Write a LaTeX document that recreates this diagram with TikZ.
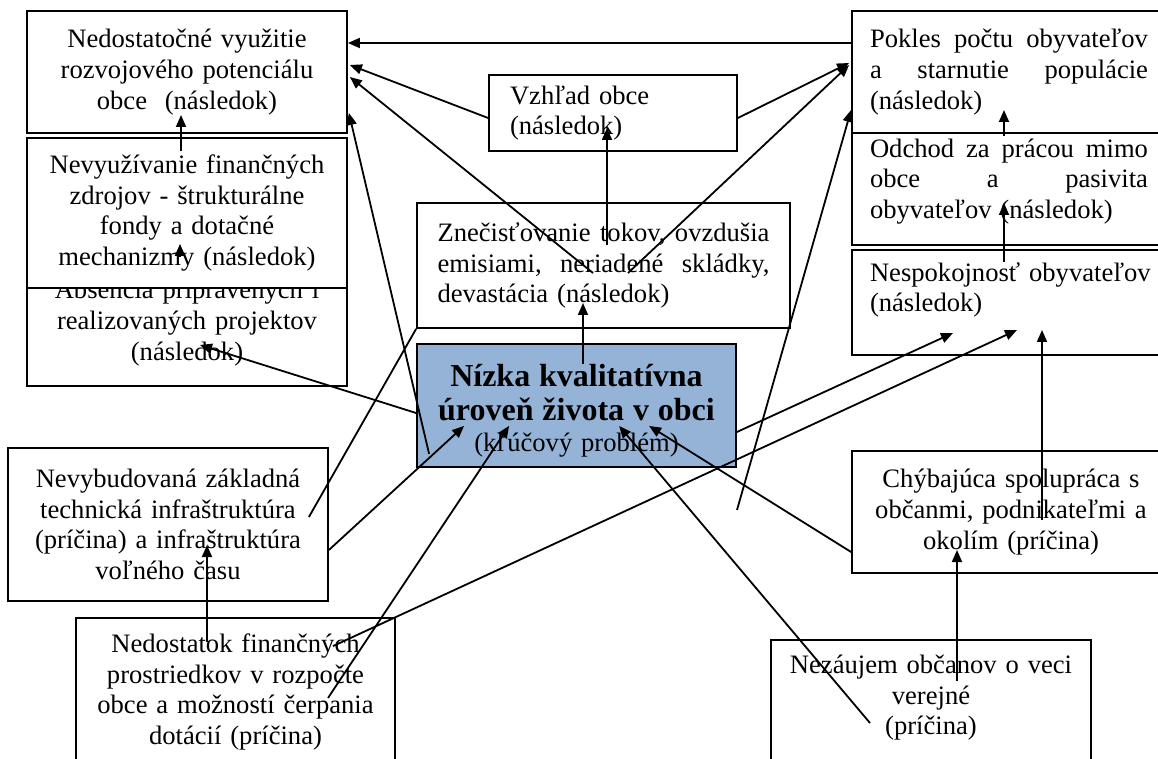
\documentclass[tikz,border=0pt]{standalone}
\usepackage{fontspec}
\setmainfont{Liberation Serif}
\usetikzlibrary{arrows.meta}
\definecolor{keyblue}{HTML}{95B3D7}
\newcommand{\jline}[2]{\makebox[#1]{#2}}

\begin{document}
\begin{tikzpicture}
[every node/.style={inner sep=0pt, font=\fontsize{13.3}{15.3}\selectfont},
 box/.style={rectangle, draw=black, fill=white, line width=0.9pt},
 arr/.style={line width=0.9pt, -{Triangle[length=6pt,width=5pt]}, color=black}]
\useasboundingbox (0pt,0pt) rectangle (579pt,-379.5pt);
\clip (0pt,0pt) rectangle (579pt,-379.5pt);
\node (3) [box, minimum width=160pt, minimum height=63pt, text width=150pt, align=center] at (93.5pt, -161.5pt) {Absencia pripravených i\\realizovaných projektov\\(následok)};
\node (2) [box, minimum width=160pt, minimum height=75pt, text width=150pt, align=center] at (93.5pt, -106.5pt) {Nevyužívanie finančných\\zdrojov - štrukturálne\\fondy a dotačné\\mechanizmy (následok)};
\node (1) [box, minimum width=160pt, minimum height=61pt, text width=150pt, align=center] at (93.5pt, -36pt) {Nedostatočné využitie\\rozvojového potenciálu\\obce\ \ (následok)};
\node (4) [box, minimum width=124pt, minimum height=38pt, text width=103pt, align=left] at (306.5pt, -56.5pt) {Vzhľad obce\\(následok)};
\node (5) [box, minimum width=186.5pt, minimum height=62.5pt, text width=166pt, align=left] at (301.75pt, -132.75pt) {\jline{166pt}{Znečisťovanie\hfill tokov,\hfill ovzdušia}\\\jline{166pt}{emisiami,\hfill neriadené\hfill skládky,}\\devastácia (následok)};
\node (6) [box, fill=keyblue, minimum width=159.5pt, minimum height=61.5pt, text width=150pt, text height=16pt, align=center] at (288.25pt, -202.75pt) {{\fontsize{16}{18.5}\selectfont\bfseries Nízka kvalitatívna}\\[2pt]{\fontsize{16}{18.5}\selectfont\bfseries úroveň života v obci}\\(kľúčový problém)};
% right column
\node (7) [box, minimum width=159pt, minimum height=61pt, text width=141pt, align=left] at (505.5pt, -36pt) {\jline{139pt}{Pokles\hfill počtu\hfill obyvateľov}\\\jline{139pt}{a\hfill starnutie\hfill populácie}\\(následok)};
\node (8) [box, minimum width=159pt, minimum height=56pt, text width=141pt, text depth=41pt, align=left] at (505.5pt, -94.5pt) {\jline{139pt}{Odchod\hfill za\hfill prácou\hfill mimo}\\\jline{139pt}{obce\hfill a\hfill pasivita}\\obyvateľov (následok)};
\node (9) [box, minimum width=159pt, minimum height=52.5pt, text width=141pt, text depth=30.5pt, align=left] at (505.5pt, -151.25pt) {\mbox{Nespokojnosť obyvateľov}\\(následok)};
% causes
\node (10) [box, minimum width=160pt, minimum height=76.5pt, text width=150pt, align=center] at (84pt, -262.25pt) {Nevybudovaná základná\\technická infraštruktúra\\(príčina) a infraštruktúra\\voľného času};
\node (11) [box, minimum width=159.5pt, minimum height=74pt, text width=150pt, align=center] at (117.75pt, -346pt) {Nedostatok finančných\\prostriedkov v rozpočte\\obce a možností čerpania\\dotácií (príčina)};
\node (12) [box, minimum width=159pt, minimum height=61pt, text width=150pt, align=center] at (505.5pt, -256pt) {Chýbajúca spolupráca s\\občanmi, podnikateľmi a\\okolím (príčina)};
\node (13) [box, minimum width=160pt, minimum height=67.5pt, text width=150pt, text depth=43pt, align=center] at (465.5pt, -353.75pt) {Nezáujem občanov o veci\\verejné\\(príčina)};
\coordinate (g) at (368.5pt, -255pt);
% arrows
\draw [arr] ([yshift=14.5pt]7.west) -- ([yshift=14.5pt]1.east);
\draw [arr] ([yshift=-2.5pt]4.west) -- ([xshift=1pt,yshift=3.5pt]1.east);
\draw [arr] ([xshift=-5.25pt,yshift=-3.75pt]5.center) -- ([xshift=1pt,yshift=-2.5pt]1.east);
\draw [arr] ([xshift=6.5pt,yshift=7pt]6.south west) -- ([xshift=0.5pt,yshift=-20.5pt]1.east);
\draw [arr] ([yshift=-2.5pt]4.east) -- ([xshift=-1pt,yshift=4.5pt]7.west);
\draw [arr] ([xshift=12.25pt,yshift=-3.75pt]5.center) -- ([xshift=-1pt,yshift=3.5pt]7.west);
\draw [arr] (g) -- ([yshift=-19pt]7.west);
\draw [arr] ([xshift=1.75pt,yshift=10.25pt]5.center) -- ([xshift=-3pt,yshift=-7.5pt]4.center);
\draw [arr] ([xshift=3.25pt,yshift=-10.5pt]6.north) -- ([xshift=-10.25pt,yshift=-18.75pt]5.center);
\draw [arr] ([xshift=-3pt,yshift=-7pt]2.north) -- ([xshift=-3pt,yshift=-21.5pt]1.center);
\draw [arr] ([xshift=-3.5pt,yshift=1pt]3.north) -- ([xshift=-3.5pt,yshift=22.5pt]2.south);
\draw [arr] ([xshift=-3.5pt,yshift=-6.5pt]9.north) -- ([xshift=-3.5pt,yshift=-7pt]8.center);
\draw [arr] ([xshift=-3.5pt,yshift=-2pt]8.north) -- ([xshift=-3.5pt,yshift=-19pt]7.center);
\draw [arr] ([yshift=-3.75pt]6.west) -- ([xshift=6.5pt,yshift=-11pt]3.center);
\draw [line width=0.9pt] ([xshift=-10pt,yshift=3.75pt]10.east) -- (5.south west);
\draw [arr] ([yshift=-12.75pt]10.east) -- ([xshift=24pt,yshift=21pt]6.south west);
\draw [arr] ([xshift=-14.25pt,yshift=-12.5pt]11.north) -- ([xshift=19.5pt,yshift=-10.25pt]10.center);
\draw [arr] ([xshift=46.25pt,yshift=-3pt]11.center) -- ([xshift=46.5pt,yshift=21pt]6.south west);
\draw [arr] ([xshift=48.75pt,yshift=-14.5pt]11.north) -- ([xshift=3pt,yshift=-13.75pt]9.center);
\draw [arr] ([yshift=-13.25pt]6.east) -- ([xshift=-29pt,yshift=-15.25pt]9.center);
\draw [arr] ([xshift=15.5pt,yshift=-4pt]12.center) -- ([xshift=15.5pt,yshift=-13.75pt]9.center);
\draw [arr] ([xshift=-30.5pt,yshift=-7.75pt]13.center) -- ([xshift=101.5pt,yshift=21pt]6.south west);
\draw [arr] ([yshift=-20pt]12.west) -- ([xshift=116.5pt,yshift=21pt]6.south west);
\draw [arr] ([xshift=13pt,yshift=-21pt]13.north) -- ([xshift=-27pt,yshift=-19pt]12.center);
\end{tikzpicture}
\end{document}
